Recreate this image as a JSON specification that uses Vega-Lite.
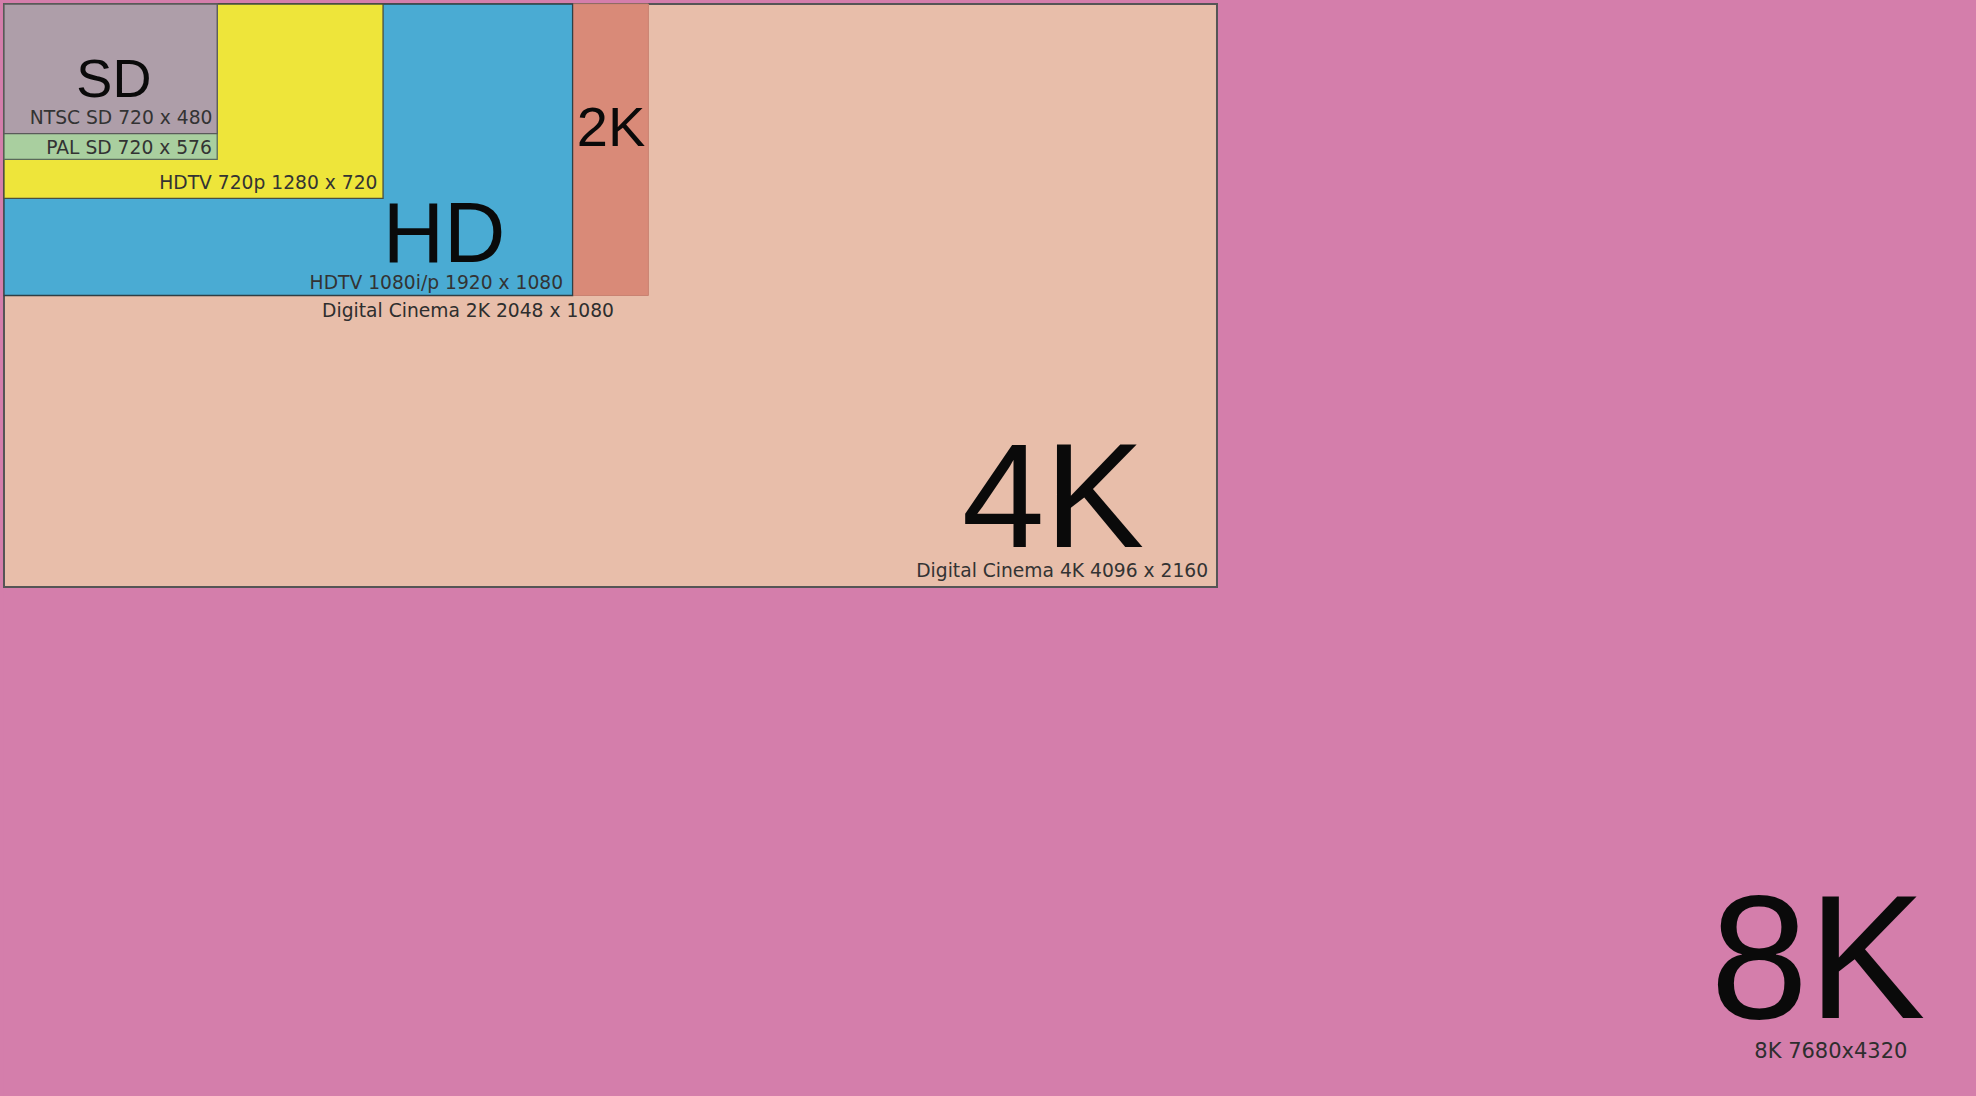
{
  "$schema": "https://vega.github.io/schema/vega-lite/v6.json",
  "width": 1976,
  "height": 1096,
  "autosize": {"type": "none"},
  "padding": 0,
  "background": "#D47EAB",
  "config": {"view": {"stroke": null}},
  "resolve": {"scale": {"size": "independent"}},
  "datasets": {
    "formats": [
      {"name": "8K", "x0": 0, "y0": 0, "w": 7680, "h": 4320},
      {"name": "4K", "x0": 0, "y0": 0, "w": 4096, "h": 2160},
      {"name": "2K", "x0": 0, "y0": 0, "w": 2176, "h": 1080},
      {"name": "HD", "x0": 0, "y0": 0, "w": 1920, "h": 1080},
      {"name": "720p", "x0": 0, "y0": 0, "w": 1280, "h": 720},
      {"name": "PAL", "x0": 0, "y0": 0, "w": 720, "h": 576},
      {"name": "NTSC", "x0": 0, "y0": 0, "w": 720, "h": 480}
    ],
    "bigLabels": [
      {"label": "SD", "x": 371, "y": 345},
      {"label": "HD", "x": 1486, "y": 956},
      {"label": "2K", "x": 2050, "y": 526},
      {"label": "4K", "x": 3542, "y": 2012},
      {"label": "8K", "x": 6125, "y": 3757}
    ],
    "smallLabels": [
      {"label": "NTSC SD 720 x 480", "x": 704, "y": 445, "pos": "right"},
      {"label": "PAL SD 720 x 576", "x": 702, "y": 556, "pos": "right"},
      {"label": "HDTV 720p 1280 x 720", "x": 1261, "y": 685, "pos": "right"},
      {"label": "HDTV 1080i/p 1920 x 1080", "x": 1888, "y": 1056, "pos": "right"},
      {"label": "Digital Cinema 2K 2048 x 1080", "x": 1567, "y": 1160, "pos": "center"},
      {"label": "Digital Cinema 4K 4096 x 2160", "x": 4066, "y": 2123, "pos": "right"},
      {"label": "8K 7680x4320", "x": 6169, "y": 3905, "pos": "center"}
    ]
  },
  "layer": [
    {
      "data": {"name": "formats"},
      "mark": {"type": "rect", "clip": true},
      "encoding": {
        "x": {"field": "x0", "type": "quantitative", "scale": {"domain": [-13.5, 6659], "nice": false, "zero": false}, "axis": null},
        "x2": {"field": "w"},
        "y": {"field": "y0", "type": "quantitative", "scale": {"domain": [-14.8, 4045.8], "nice": false, "zero": false, "reverse": true}, "axis": null},
        "y2": {"field": "h"},
        "fill": {
          "field": "name", "type": "nominal", "legend": null,
          "scale": {
            "domain": ["8K", "4K", "2K", "HD", "720p", "PAL", "NTSC"],
            "range": ["#D47EAB", "#E8BEAA", "#D98A78", "#4AABD3", "#EEE53A", "#A9CF9F", "#AE9EA9"]
          }
        },
        "stroke": {
          "field": "name", "type": "nominal", "legend": null,
          "scale": {
            "domain": ["8K", "4K", "2K", "HD", "720p", "PAL", "NTSC"],
            "range": ["#D47EAB", "#555555", "#C98272", "#2F3F45", "#4A5040", "#5A6A5A", "#5A5A5A"]
          }
        },
        "strokeWidth": {
          "field": "name", "type": "ordinal", "legend": null,
          "scale": {
            "type": "ordinal",
            "domain": ["8K", "4K", "2K", "HD", "720p", "PAL", "NTSC"],
            "range": [0, 2, 1, 1.3, 1.3, 1.3, 1.3]
          }
        }
      }
    },
    {
      "data": {"name": "bigLabels"},
      "mark": {"type": "text", "align": "center", "baseline": "alphabetic", "font": "Liberation Sans", "color": "#0A0A0A"},
      "encoding": {
        "x": {"field": "x", "type": "quantitative"},
        "y": {"field": "y", "type": "quantitative"},
        "text": {"field": "label", "type": "nominal"},
        "size": {
          "field": "label", "type": "ordinal", "legend": null,
          "scale": {"type": "ordinal", "domain": ["SD", "HD", "2K", "4K", "8K"], "range": [54, 85, 56, 149, 176]}
        }
      }
    },
    {
      "data": {"name": "smallLabels"},
      "transform": [{"filter": "datum.pos == 'right'"}],
      "mark": {"type": "text", "align": "right", "baseline": "alphabetic", "font": "DejaVu Sans", "fontSize": 18.7, "color": "#333333"},
      "encoding": {
        "x": {"field": "x", "type": "quantitative"},
        "y": {"field": "y", "type": "quantitative"},
        "text": {"field": "label", "type": "nominal"}
      }
    },
    {
      "data": {"name": "smallLabels"},
      "transform": [{"filter": "datum.pos == 'center'"}],
      "mark": {"type": "text", "align": "center", "baseline": "alphabetic", "font": "DejaVu Sans", "color": "#2E2E2E"},
      "encoding": {
        "x": {"field": "x", "type": "quantitative"},
        "y": {"field": "y", "type": "quantitative"},
        "text": {"field": "label", "type": "nominal"},
        "size": {
          "field": "label", "type": "ordinal", "legend": null,
          "scale": {"type": "ordinal", "domain": ["Digital Cinema 2K 2048 x 1080", "8K 7680x4320"], "range": [18.7, 21]}
        }
      }
    }
  ]
}
